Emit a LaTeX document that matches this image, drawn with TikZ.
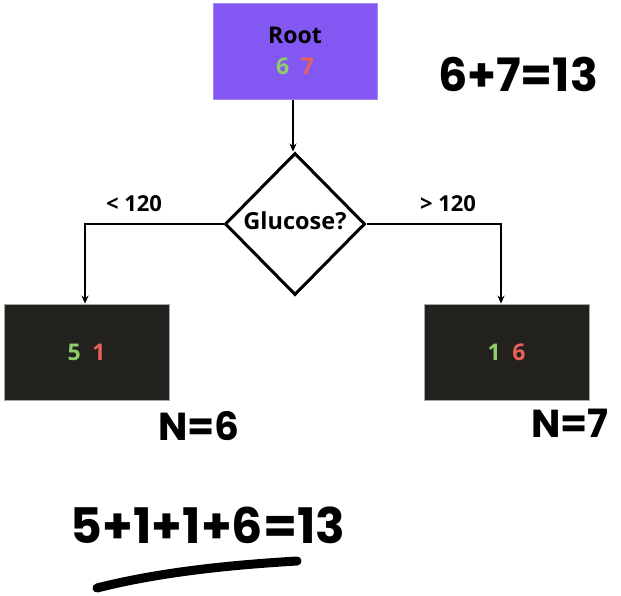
\documentclass[tikz,border=0pt]{standalone}
\usepackage{fontspec}
\setmainfont{Open Sans}
\newfontfamily\hand{Poppins}
\usetikzlibrary{shapes.geometric,arrows.meta}
\definecolor{rootfill}{HTML}{8257F2}
\definecolor{leaffill}{HTML}{23211E}
\definecolor{yescol}{HTML}{8DCE6A}
\definecolor{nocol}{HTML}{E8625B}
\tikzset{
  rootbox/.style={rectangle, fill=rootfill, draw=rootfill!70!white, line width=1pt,
    minimum width=164pt, minimum height=96pt, inner sep=0pt, align=center,
    font=\fontsize{23}{31}\selectfont\bfseries},
  leafbox/.style={rectangle, fill=leaffill, draw=gray!70, line width=0.8pt,
    minimum width=165pt, minimum height=96pt, inner sep=0pt,
    font=\fontsize{23}{28}\selectfont\bfseries},
  question/.style={diamond, draw=black, line width=3pt, fill=white,
    minimum width=140pt, minimum height=142pt, inner sep=0pt,
    font=\fontsize{23.5}{28}\selectfont\bfseries},
  branchlabel/.style={inner sep=0pt, font=\fontsize{22}{26}\selectfont\bfseries},
  conn/.style={line width=1.6pt, -{Stealth[length=8pt,width=7pt]}},
  scribble/.style={inner sep=0pt, font=\hand\bfseries\fontsize{46}{50}\selectfont},
  smallscribble/.style={scribble, font=\hand\bfseries\fontsize{39}{42}\selectfont},
}
\begin{document}
\begin{tikzpicture}[x=1pt, y=-1pt]
\useasboundingbox (0,0) rectangle (621,595);

% tree nodes
\node[rootbox] (root) at (295,51)
  {Root\\\textcolor{yescol}{6}\hspace{0.5em}\textcolor{nocol}{7}};
\node[question] (dia) at (295,224) {\raisebox{6pt}{Glucose?}};
\node[leafbox] (left) at (86.5,352)
  {\textcolor{yescol}{5}\hspace{0.5em}\textcolor{nocol}{1}};
\node[leafbox] (right) at (506.5,352)
  {\textcolor{yescol}{1}\hspace{0.5em}\textcolor{nocol}{6}};

% connectors
\draw[conn] (root.south -| 293,0) -- (dia.north -| 293,0);
\draw[conn] (dia.west) -| (left.north -| 85,0);
\draw[conn] (dia.east) -| (right.north -| 501,0);

% branch labels
\node[branchlabel] (lt) at (134,204) {< 120};
\node[branchlabel] (gt) at (448,204) {> 120};

% handwritten notes
\node[scribble] (sum) at (518,74) {6+7=13};
\node[smallscribble] (nl) at (199,426) {N=6};
\node[smallscribble] (nr) at (570,423) {N=7};
\node[scribble, font=\hand\bfseries\fontsize{49}{52}\selectfont] (total) at (208,525) {5+1+1+6=13};
\draw[line width=9pt, line cap=round] (97,588) .. controls (160,572) and (230,565) .. (297,561);
\end{tikzpicture}
\end{document}
